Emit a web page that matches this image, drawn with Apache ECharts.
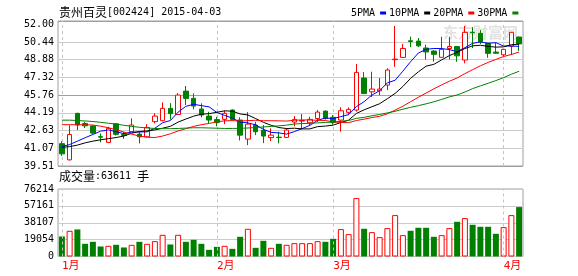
<!DOCTYPE html>
<html><head><meta charset="utf-8">
<script src="https://cdn.jsdelivr.net/npm/echarts@6/dist/echarts.min.js"></script>
<style>html,body{margin:0;padding:0;background:#fff}#c{width:578px;height:276px}</style>
</head><body><div id="c"></div>
<script>
const dates = ['2015-01-05','2015-01-06','2015-01-07','2015-01-08','2015-01-09','2015-01-12','2015-01-13','2015-01-14','2015-01-15','2015-01-16',
'2015-01-19','2015-01-20','2015-01-21','2015-01-22','2015-01-23','2015-01-26','2015-01-27','2015-01-28','2015-01-29','2015-01-30',
'2015-02-02','2015-02-03','2015-02-04','2015-02-05','2015-02-06','2015-02-09','2015-02-10','2015-02-11','2015-02-12','2015-02-13',
'2015-02-16','2015-02-17','2015-02-25','2015-02-26','2015-02-27',
'2015-03-02','2015-03-03','2015-03-04','2015-03-05','2015-03-06','2015-03-09','2015-03-10','2015-03-11','2015-03-12','2015-03-13',
'2015-03-16','2015-03-17','2015-03-18','2015-03-19','2015-03-20','2015-03-23','2015-03-24','2015-03-25','2015-03-26','2015-03-27',
'2015-03-30','2015-03-31','2015-04-01','2015-04-02','2015-04-03'];
const opens = [41.48,40.05,44.15,43.25,43.03,42.10,41.59,43.23,42.30,42.53,
42.32,42.08,43.42,43.50,44.59,44.05,46.11,45.47,44.53,43.91,
43.60,43.62,44.44,43.56,41.88,43.12,42.65,42.01,42.05,42.03,
43.38,43.47,43.32,43.69,44.35,43.80,43.56,44.24,44.44,47.26,
46.05,46.13,46.64,48.88,49.08,50.55,50.52,49.91,49.64,49.09,
49.87,50.04,48.85,51.30,51.20,50.32,49.55,49.31,50.07,50.88];
const closes = [40.58,42.29,43.12,43.05,42.41,42.05,42.83,42.30,42.20,43.12,
42.08,42.91,43.91,44.59,44.12,45.76,45.47,44.79,44.00,43.56,
43.35,44.15,43.60,42.23,43.20,42.53,42.15,42.23,42.02,42.68,
43.62,43.52,43.62,44.26,43.69,43.35,44.38,44.50,47.76,45.89,
46.29,46.29,47.97,48.93,49.87,50.48,50.10,49.56,49.35,49.79,
50.04,49.22,51.29,51.25,50.46,49.44,49.45,49.79,51.29,50.27];
const highs = [41.70,43.10,44.20,43.40,43.10,42.38,42.97,43.27,42.50,43.71,
42.50,43.20,44.15,45.12,45.05,45.93,46.56,45.91,45.03,44.29,
43.85,44.40,44.50,43.80,44.26,43.41,43.12,42.83,42.53,42.85,
43.91,44.09,43.85,44.44,44.40,44.00,44.68,44.68,48.50,47.79,
47.82,47.26,48.12,51.85,50.26,50.91,50.79,50.20,49.72,50.90,
50.90,50.07,51.85,51.75,51.49,50.35,50.35,49.85,51.30,50.90];
const lows = [40.40,40.00,42.68,42.85,42.30,41.60,41.55,42.20,41.90,42.50,
41.50,42.05,43.26,43.45,43.60,44.00,44.88,44.50,43.79,43.27,
43.00,43.20,43.50,41.76,41.35,42.23,41.53,41.71,41.50,42.00,
43.00,42.74,43.09,43.38,43.60,43.15,42.53,44.00,44.30,45.85,
45.59,45.76,46.20,48.25,49.08,49.99,49.99,48.88,48.70,49.07,
48.91,48.69,48.56,49.90,50.26,49.05,49.40,49.18,49.29,49.65];
const volumes = [22620,29030,30540,14330,16590,11310,12060,13200,10180,13200,
16590,14330,17340,24500,13570,24500,16590,18850,14330,7540,
10930,12060,8670,22240,31290,9800,17720,9800,14330,13200,
15080,15080,15080,17340,16590,19980,30910,25260,65980,31290,
27520,21870,32050,46750,24130,29030,32420,32420,22240,24130,
32050,39210,43360,35820,33550,33550,25640,33180,46750,55800];
const ma5 = [41.22,41.40,41.70,42.00,42.29,42.58,42.69,42.53,42.36,42.50,
42.51,42.52,42.84,43.32,43.52,44.26,44.77,44.95,44.83,44.72,
44.23,43.97,43.73,43.38,43.31,43.14,42.74,42.47,42.43,42.32,
42.54,42.81,43.09,43.54,43.74,43.69,43.86,44.04,44.74,45.18,
45.76,46.15,46.84,47.07,47.87,48.71,49.47,49.79,49.87,49.86,
49.77,49.59,49.94,50.32,50.45,50.33,50.38,50.08,50.09,50.05];
const ma10 = [41.15,41.22,41.35,41.55,41.70,41.82,41.92,42.02,42.15,42.40,
42.55,42.61,42.69,42.84,43.01,43.38,43.65,43.90,44.08,44.12,
44.25,44.37,44.34,44.10,44.01,43.69,43.36,43.10,42.90,42.81,
42.84,42.78,42.78,42.98,43.03,43.11,43.34,43.56,44.14,44.46,
44.73,45.00,45.44,45.91,46.52,47.24,47.81,48.31,48.47,48.86,
49.24,49.53,49.86,50.10,50.15,50.05,49.99,50.01,50.20,50.25];
const ma20 = [43.15,43.15,43.15,43.14,43.12,43.02,42.88,42.70,42.50,42.32,
42.15,42.05,42.02,42.15,42.35,42.60,42.80,43.00,43.15,43.26,
43.40,43.49,43.51,43.47,43.51,43.54,43.50,43.50,43.49,43.47,
43.54,43.57,43.56,43.54,43.52,43.40,43.35,43.33,43.52,43.64,
43.78,43.89,44.11,44.44,44.78,45.18,45.57,45.94,46.31,46.66,
46.98,47.27,47.65,48.00,48.34,48.64,48.90,49.16,49.34,49.56];
const ma30 = [43.55,43.55,43.52,43.48,43.43,43.36,43.28,43.20,43.10,43.00,
42.92,42.86,42.82,42.80,42.80,42.82,42.85,42.88,42.88,42.86,
42.84,42.82,42.82,42.83,42.86,42.90,42.95,43.00,43.05,43.11,
43.21,43.25,43.27,43.31,43.35,43.39,43.45,43.52,43.71,43.80,
43.94,44.05,44.19,44.33,44.52,44.68,44.83,44.99,45.17,45.38,
45.60,45.77,46.03,46.33,46.57,46.80,47.04,47.30,47.60,47.86];
const priceTicks = ['39.51','41.07','42.63','44.19','45.76','47.32','48.88','50.44','52.00'];
const volumeTicks = ['0','19054','38107','57161','76214'];
const monthStarts = ['2015-01-05','2015-02-02','2015-03-02','2015-04-01'];
const monthNames = ['1月','2月','3月','4月'];
const maNames = ['5PMA','10PMA','20PMA','30PMA'];

const MONO = 'DejaVu Sans Mono';
const CJK = 'Noto Sans CJK SC';
const UP = '#ff0000', DOWN = '#008000';
const GL = 58, GW = 465;

const kdata = dates.map((d, i) => [opens[i], closes[i], lows[i], highs[i]]);
const vdata = volumes.map((v, i) => {
  const up = closes[i] >= opens[i];
  return { value: v, itemStyle: up ? { color: '#ffffff', borderColor: UP, borderWidth: 1 } : { color: DOWN, borderColor: DOWN, borderWidth: 0 } };
});
const monthLines = monthStarts.map(d => ({ xAxis: d }));
const dashStyle = { color: '#c4c4c4', type: [3, 3], width: 1 };
const richTitle = {
  a: { fontFamily: CJK, fontSize: 12, fontWeight: 'normal', color: '#000' },
  b: { fontFamily: MONO, fontSize: 10, fontWeight: 'normal', color: '#000' }
};

const chart = echarts.init(document.getElementById('c'), null, { renderer: 'canvas' });
chart.setOption({
  animation: false,
  title: [
    { left: 59, top: 6, padding: 0,
      text: '{a|贵州百灵}{b|[002424] 2015-04-03}',
      textStyle: { fontWeight: 'normal', rich: richTitle } },
    { left: 59, top: 170, padding: 0,
      text: '{a|成交量}{b|:63611 }{a|手}',
      textStyle: { fontWeight: 'normal', rich: richTitle } }
  ],
  legend: {
    left: 351, top: 8, padding: 0, align: 'right', icon: 'rect',
    itemWidth: 6, itemHeight: 3, itemGap: 3,
    data: maNames,
    textStyle: { fontFamily: MONO, fontSize: 10, color: '#000' }
  },
  graphic: [{
    type: 'text', left: 443, top: 25, z: 0, silent: true,
    style: { text: '东方财富网', fill: '#e2e2e2', font: 'bold 15px "Noto Sans CJK SC"' }
  }],
  grid: [
    { left: GL, width: GW, top: 21, height: 145, show: true, borderColor: '#a0a0a0', borderWidth: 1, backgroundColor: 'transparent' },
    { left: GL, width: GW, top: 189, height: 67.5, show: true, borderColor: '#a0a0a0', borderWidth: 1, backgroundColor: 'transparent' }
  ],
  xAxis: [
    { type: 'category', gridIndex: 0, data: dates, boundaryGap: true,
      axisLine: { show: false }, axisTick: { show: false }, axisLabel: { show: false }, splitLine: { show: false } },
    { type: 'category', gridIndex: 1, data: dates, boundaryGap: true,
      axisLine: { show: false }, axisTick: { show: false }, splitLine: { show: false },
      axisLabel: {
        interval: (i, v) => monthStarts.indexOf(v) >= 0,
        formatter: (v) => { const k = monthStarts.indexOf(v); return k >= 0 ? monthNames[k] : ''; },
        color: '#ff0000', align: 'left', margin: 4,
        fontFamily: MONO + ', ' + CJK, fontSize: 11
      } }
  ],
  yAxis: [
    { type: 'value', gridIndex: 0, min: 39.51, max: 52.29, interval: 1.56125, scale: true,
      axisLine: { show: false }, axisTick: { show: false },
      axisLabel: { formatter: (v, i) => (i < priceTicks.length ? priceTicks[i] : ''),
        fontFamily: MONO, fontSize: 10, color: '#000', margin: 4, padding: [0, 0, 6, 0] },
      splitLine: { lineStyle: { width: 1, color: ['#a0a0a0', '#cccccc', '#cccccc', '#cccccc', '#a0a0a0', '#cccccc', '#cccccc', '#cccccc', 'rgba(0,0,0,0)', '#a0a0a0'] } } },
    { type: 'value', gridIndex: 1, min: 0, max: 76214, interval: 19053.5,
      axisLine: { show: false }, axisTick: { show: false },
      axisLabel: { formatter: (v, i) => (i < volumeTicks.length ? volumeTicks[i] : ''),
        fontFamily: MONO, fontSize: 10, color: '#000', margin: 4, padding: [5, 0, 0, 0] },
      splitLine: { lineStyle: { width: 1, color: '#cccccc' } } }
  ],
  series: [
    { type: 'candlestick', xAxisIndex: 0, yAxisIndex: 0, data: kdata, barWidth: 5,
      itemStyle: { color: '#ffffff', color0: DOWN, borderColor: UP, borderColor0: DOWN, borderWidth: 1 },
      markLine: { silent: true, symbol: 'none', label: { show: false }, lineStyle: dashStyle, data: monthLines, z: 1 } },
    { name: maNames[0], type: 'line', data: ma5, symbol: 'none', lineStyle: { width: 1, color: '#0000ff' }, itemStyle: { color: '#0000ff' } },
    { name: maNames[1], type: 'line', data: ma10, symbol: 'none', lineStyle: { width: 1, color: '#000000' }, itemStyle: { color: '#000000' } },
    { name: maNames[2], type: 'line', data: ma20, symbol: 'none', lineStyle: { width: 1, color: '#ff0000' }, itemStyle: { color: '#ff0000' } },
    { name: maNames[3], type: 'line', data: ma30, symbol: 'none', lineStyle: { width: 1, color: '#008000' }, itemStyle: { color: '#008000' } },
    { type: 'bar', xAxisIndex: 1, yAxisIndex: 1, data: vdata, barWidth: 6,
      markLine: { silent: true, symbol: 'none', label: { show: false }, lineStyle: dashStyle, data: monthLines } }
  ]
});
</script></body></html>
